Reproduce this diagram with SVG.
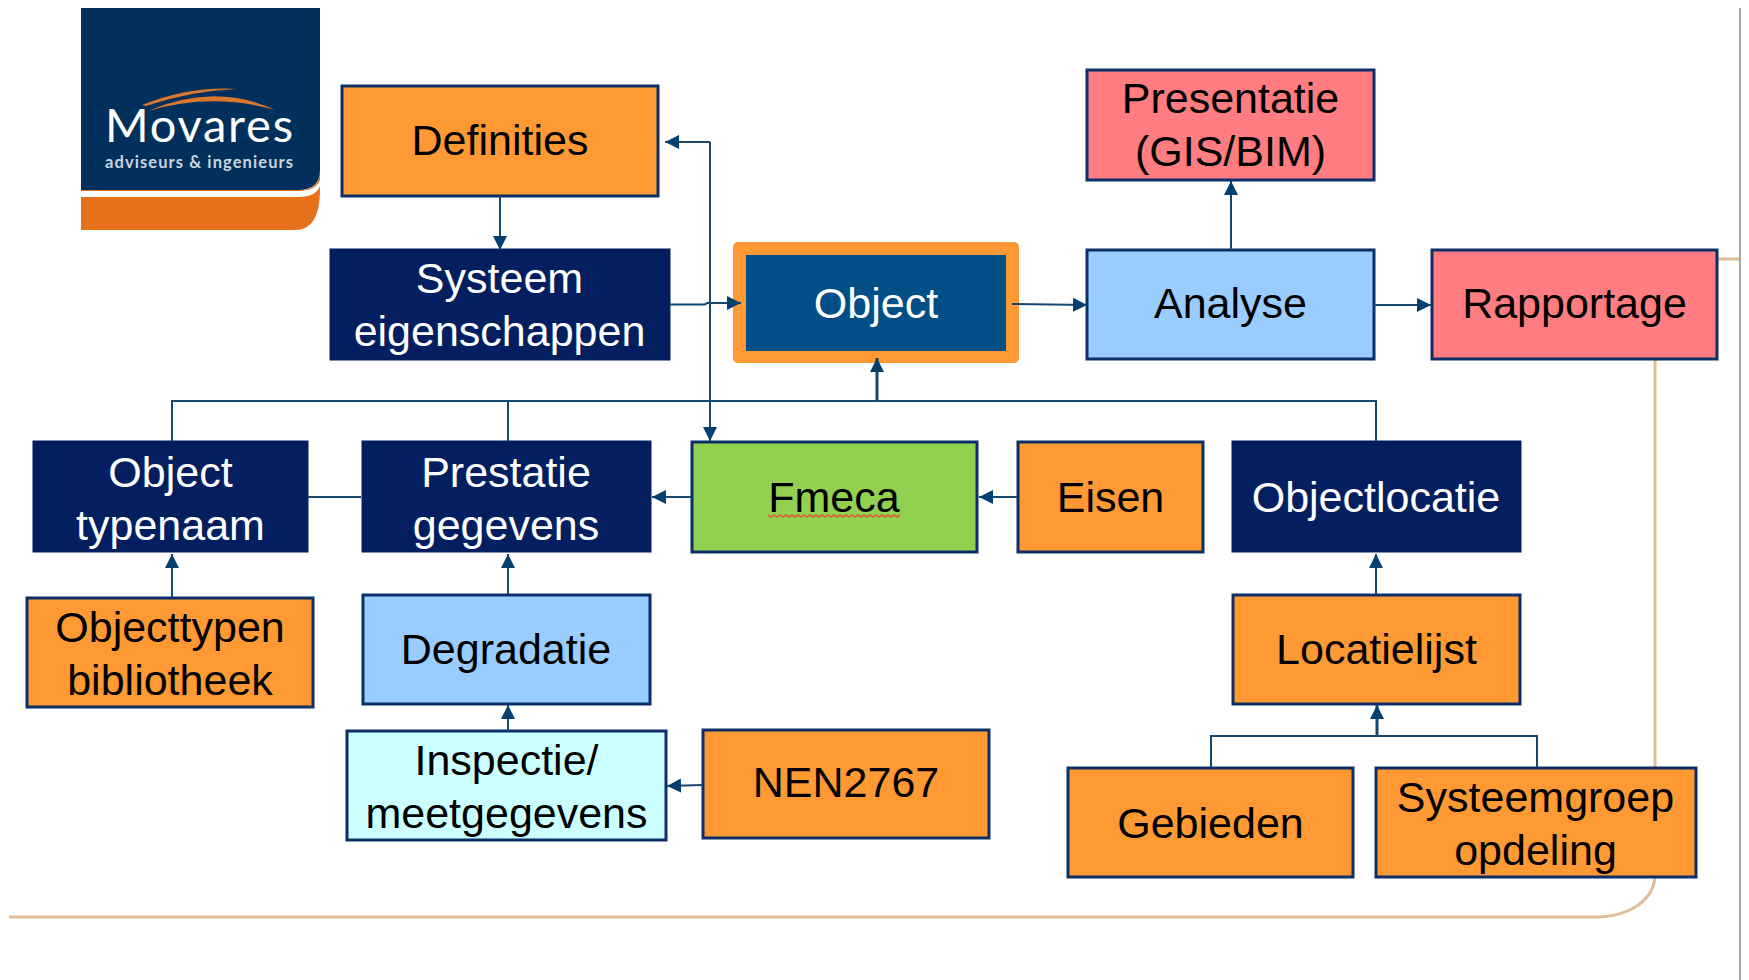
<svg xmlns="http://www.w3.org/2000/svg" width="1749" height="980" viewBox="0 0 1749 980">
<style>
text{font-family:"Liberation Sans",Arial,sans-serif;font-size:43px;text-anchor:middle;fill:#000}
.w{fill:#fff}
.box{stroke:#0b2f66;stroke-width:3}
.or{fill:#ff9933}.bl{fill:#99ccff}.pk{fill:#ff7c80}.dk{fill:#031f5f;stroke:#031f5f}
.cn{fill:none;stroke:#15476f;stroke-width:2}
.tan{fill:none;stroke:#dfbd97;stroke-width:3}
</style>
<defs>
<marker id="a" markerUnits="userSpaceOnUse" markerWidth="16" markerHeight="16" refX="14" refY="8" orient="auto"><path d="M0 1L14 8L0 15Z" fill="#03406f"/></marker>
</defs>
<rect width="1749" height="980" fill="#fff"/>
<g id="frame">
<path class="tan" d="M1718 259H1740M1655 360V767M1655 877C1653 900 1630 917 1595 917H9"/>
<path d="M1740 8V980" stroke="#a6a6a6" stroke-width="2" fill="none"/>
</g>
<g id="logo">
<path d="M81 190H300Q320 190 320 170V190Q320 230 295 230H81Z" fill="#e5711b"/>
<path d="M81 8H320V170Q320 190 298 190H81Z" fill="#02305c"/>
<path d="M81 191H298Q316 191 320 180V186Q316 197 298 197H81Z" fill="#fff"/>
<path d="M142 105Q190 86 237 89Q190 91 146 106Z" fill="#d9782d"/>
<path d="M148 111Q215 82 275 110Q212 92 148 111Z" fill="#d9782d"/>
<text x="199" y="142" textLength="188" lengthAdjust="spacing" style="font-family:Lato,sans-serif;font-size:47px" class="w">Movares</text>
<text x="199" y="168" textLength="188" lengthAdjust="spacing" style="font-family:Lato,sans-serif;font-size:16.5px;font-weight:700;fill:#c9d6df">adviseurs &amp; ingenieurs</text>
</g>
<g id="definities"><rect class="box or" x="342" y="86" width="316" height="110"/><text x="500" y="155">Definities</text></g>
<g id="systeem"><rect class="box dk" x="331" y="250" width="338" height="109"/><text class="w" x="499.500" y="293">Systeem</text><text class="w" x="499.500" y="346">eigenschappen</text></g>
<g id="object"><rect x="733" y="242" width="286" height="121" rx="5" fill="#ff9933"/><rect x="746" y="255" width="260" height="96" fill="#024f87"/><text class="w" x="876" y="318">Object</text></g>
<g id="presentatie"><rect class="box pk" x="1087" y="70" width="287" height="110"/><text x="1230.500" y="113">Presentatie</text><text x="1230.500" y="166">(GIS/BIM)</text></g>
<g id="analyse"><rect class="box bl" x="1087" y="250" width="287" height="109"/><text x="1230.500" y="318">Analyse</text></g>
<g id="rapportage"><rect class="box pk" x="1432" y="250" width="285" height="109"/><text x="1574.500" y="318">Rapportage</text></g>
<g id="objecttypenaam"><rect class="box dk" x="34" y="442" width="273" height="109"/><text class="w" x="170.500" y="487">Object</text><text class="w" x="170.500" y="540">typenaam</text></g>
<g id="prestatie"><rect class="box dk" x="363" y="442" width="287" height="109"/><text class="w" x="506" y="487">Prestatie</text><text class="w" x="506" y="540">gegevens</text></g>
<g id="fmeca"><rect class="box" fill="#92d050" x="692" y="442" width="285" height="110"/><text x="834" y="512">Fmeca</text><path d="M768 515l3 2 3-2 3 2 3-2 3 2 3-2 3 2 3-2 3 2 3-2 3 2 3-2 3 2 3-2 3 2 3-2 3 2 3-2 3 2 3-2 3 2 3-2 3 2 3-2 3 2 3-2 3 2 3-2 3 2 3-2 3 2 3-2 3 2 3-2 3 2 3-2 3 2 3-2 3 2 3-2 3 2 3-2 3 2 3-2" fill="none" stroke="#e0503c" stroke-width="1.500"/></g>
<g id="eisen"><rect class="box or" x="1018" y="442" width="185" height="110"/><text x="1110.500" y="512">Eisen</text></g>
<g id="objectlocatie"><rect class="box dk" x="1233" y="442" width="287" height="109"/><text class="w" x="1376" y="512">Objectlocatie</text></g>
<g id="objecttypen"><rect class="box or" x="27" y="598" width="286" height="109"/><text x="170" y="642">Objecttypen</text><text x="170" y="695">bibliotheek</text></g>
<g id="degradatie"><rect class="box bl" x="363" y="595" width="287" height="109"/><text x="506" y="664">Degradatie</text></g>
<g id="locatielijst"><rect class="box or" x="1233" y="595" width="287" height="109"/><text x="1376.500" y="664">Locatielijst</text></g>
<g id="inspectie"><rect class="box" fill="#ccffff" x="347" y="731" width="319" height="109"/><text x="506.500" y="775">Inspectie/</text><text x="506.500" y="828">meetgegevens</text></g>
<g id="nen2767"><rect class="box or" x="703" y="730" width="286" height="108"/><text x="846" y="797">NEN2767</text></g>
<g id="gebieden"><rect class="box or" x="1068" y="768" width="285" height="109"/><text x="1210.500" y="838">Gebieden</text></g>
<g id="systeemgroep"><rect class="box or" x="1376" y="768" width="320" height="109"/><text x="1535.500" y="812">Systeemgroep</text><text x="1535.500" y="865">opdeling</text></g>
<g id="connectors">
<path class="cn" d="M500 196V250" marker-end="url(#a)"/>
<path class="cn" d="M710 142H665" marker-end="url(#a)"/>
<path class="cn" d="M710 142V441" marker-end="url(#a)"/>
<path class="cn" d="M670 304.500H705L707 303H741" marker-end="url(#a)"/>
<path class="cn" d="M1012 304L1087 305" marker-end="url(#a)"/>
<path class="cn" d="M1231 250V181" marker-end="url(#a)"/>
<path class="cn" d="M1374 305H1431" marker-end="url(#a)"/>
<path class="cn" d="M172 441V401H1376V441M508 441V401"/>
<path class="cn" style="stroke-width:3" d="M877 401V358" marker-end="url(#a)"/>
<path class="cn" d="M308 497H361"/>
<path class="cn" d="M691 497H652" marker-end="url(#a)"/>
<path class="cn" d="M1017 497H979" marker-end="url(#a)"/>
<path class="cn" d="M172 597V554" marker-end="url(#a)"/>
<path class="cn" d="M508 594V554" marker-end="url(#a)"/>
<path class="cn" d="M1376 594V554" marker-end="url(#a)"/>
<path class="cn" d="M508 731V705" marker-end="url(#a)"/>
<path class="cn" d="M703 785L667 786" marker-end="url(#a)"/>
<path class="cn" d="M1211 767V736H1537V767"/>
<path class="cn" style="stroke-width:3" d="M1377 736V705" marker-end="url(#a)"/>
</g>
</svg>
